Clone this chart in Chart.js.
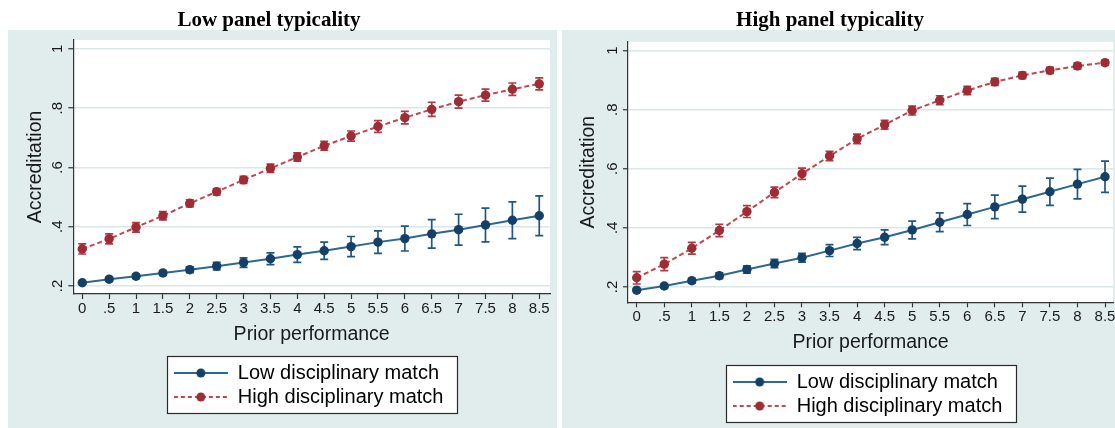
<!DOCTYPE html>
<html><head><meta charset="utf-8">
<script src="https://cdn.jsdelivr.net/npm/chart.js@4/dist/chart.umd.min.js"></script>
<style>
html,body{margin:0;padding:0;background:#fff;width:1115px;height:428px;overflow:hidden;position:relative}
.wrap{position:absolute;top:0;height:428px}
#w1{left:-12px;width:570px}
#w2{left:547px;width:572px}
canvas{display:block}
</style></head><body>
<div class="wrap" id="w1"><canvas id="c1" width="570" height="428"></canvas></div>
<div class="wrap" id="w2"><canvas id="c2" width="572" height="428"></canvas></div>
<script>
// ---- data ----
const priorPerformance = [0, 0.5, 1, 1.5, 2, 2.5, 3, 3.5, 4, 4.5, 5, 5.5, 6, 6.5, 7, 7.5, 8, 8.5];
const xTickLabels = ['0', '.5', '1', '1.5', '2', '2.5', '3', '3.5', '4', '4.5', '5', '5.5', '6', '6.5', '7', '7.5', '8', '8.5'];
const yTickValues = [0.2, 0.4, 0.6, 0.8, 1];
const yTickLabels = ['.2', '.4', '.6', '.8', '1'];
const seriesNames = ['Low disciplinary match', 'High disciplinary match'];
const panelTitles = ['Low panel typicality', 'High panel typicality'];
const xAxisTitle = 'Prior performance';
const yAxisTitle = 'Accreditation';

// Low panel typicality
const lowTypLowMatch   = [0.211, 0.223, 0.233, 0.244, 0.255, 0.267, 0.279, 0.292, 0.306, 0.319, 0.333, 0.348, 0.360, 0.376, 0.390, 0.406, 0.422, 0.437];
const lowTypLowMatchCI = [0.005, 0.006, 0.007, 0.008, 0.010, 0.013, 0.016, 0.020, 0.026, 0.029, 0.034, 0.038, 0.042, 0.048, 0.052, 0.057, 0.062, 0.067];
const lowTypHighMatch   = [0.325, 0.359, 0.398, 0.437, 0.479, 0.518, 0.558, 0.597, 0.635, 0.673, 0.706, 0.738, 0.768, 0.796, 0.822, 0.844, 0.864, 0.882];
const lowTypHighMatchCI = [0.017, 0.017, 0.016, 0.014, 0.012, 0.011, 0.012, 0.014, 0.014, 0.015, 0.017, 0.020, 0.021, 0.024, 0.022, 0.020, 0.021, 0.020];

// High panel typicality
const highTypLowMatch   = [0.189, 0.203, 0.221, 0.238, 0.259, 0.279, 0.299, 0.323, 0.347, 0.368, 0.393, 0.419, 0.445, 0.471, 0.497, 0.522, 0.548, 0.573];
const highTypLowMatchCI = [0.005, 0.006, 0.008, 0.010, 0.012, 0.014, 0.015, 0.020, 0.021, 0.025, 0.030, 0.032, 0.037, 0.040, 0.044, 0.046, 0.050, 0.053];
const highTypHighMatch   = [0.231, 0.277, 0.331, 0.391, 0.455, 0.520, 0.583, 0.643, 0.701, 0.749, 0.797, 0.832, 0.865, 0.894, 0.916, 0.933, 0.948, 0.959];
const highTypHighMatchCI = [0.021, 0.022, 0.020, 0.021, 0.020, 0.018, 0.019, 0.016, 0.016, 0.015, 0.015, 0.015, 0.014, 0.012, 0.011, 0.010, 0.010, 0.008];

// ---- styles ----
const BLUE = '#143f66', BLUE_LINE = '#2d6890', BLUE_ERR = '#22577f';
const RED = '#9d2c35', RED_LINE = '#c2464e', RED_ERR = '#b23a43';
const PANEL_BG = '#e1eded', GRID = '#dbe8e9', AXIS = '#333333', TXT = '#1a1a1a';
const LEG_FONT = 20, LEG_PAD = 4;

Chart.defaults.font.family = "'Liberation Sans', Arial, sans-serif";
Chart.defaults.color = TXT;

function legendIcon(lineColor, dotColor, dash) {
  const c = document.createElement('canvas');
  c.width = 54; c.height = 12;
  const g = c.getContext('2d');
  g.strokeStyle = lineColor; g.lineWidth = 2;
  if (dash) g.setLineDash(dash);
  g.beginPath(); g.moveTo(0, 6); g.lineTo(54, 6); g.stroke();
  g.setLineDash([]);
  g.fillStyle = dotColor;
  g.beginPath(); g.arc(27, 6, 4.5, 0, Math.PI * 2); g.fill();
  return c;
}
const iconLow = legendIcon(BLUE_LINE, BLUE, null);
const iconHigh = legendIcon(RED_LINE, RED, [4, 3]);

const panelPlugin = {
  id: 'panel',
  beforeDraw(chart, args, o) {
    const ctx = chart.ctx;
    ctx.save();
    ctx.fillStyle = PANEL_BG;
    ctx.fillRect(o.x0, 30, o.x1 - o.x0, chart.height - 30);
    const a = chart.chartArea;
    ctx.fillStyle = '#ffffff';
    ctx.fillRect(a.left, a.top, a.right - a.left, a.bottom - a.top);
    const lg = chart.legend;
    if (lg && lg.legendHitBoxes && lg.legendHitBoxes.length) {
      const maxW = Math.max(...lg.legendHitBoxes.map(h => h.width));
      const m = maxW + LEG_PAD + o.legendShift;
      lg.lineWidths = lg.lineWidths.map(() => m);
      const rowX = (lg.left + LEG_PAD + lg.right - m) / 2;
      const r1 = lg.top + LEG_PAD + LEG_FONT / 2;
      const r2 = r1 + (LEG_FONT + LEG_PAD) * (lg.lineWidths.length - 1);
      const bx = Math.round(rowX - 7) + 0.5, by = Math.round(r1 - 17) + 0.5;
      const bw = Math.round(maxW + 7 + 13), bh = Math.round(r2 + 16 - (r1 - 17));
      ctx.fillStyle = '#ffffff';
      ctx.fillRect(bx, by, bw, bh);
      ctx.strokeStyle = '#2a2a2a'; ctx.lineWidth = 1.2;
      ctx.strokeRect(bx, by, bw, bh);
    }
    ctx.restore();
  }
};

const errPlugin = {
  id: 'errbars',
  beforeDatasetsDraw(chart) {
    const ctx = chart.ctx, xs = chart.scales.x, ys = chart.scales.y;
    ctx.save();
    ctx.lineWidth = 1.7;
    chart.data.datasets.forEach(ds => {
      ctx.strokeStyle = ds.errColor;
      ds.ci.forEach((e, j) => {
        const p = ds.data[j];
        const x = xs.getPixelForValue(p.x);
        const y1 = ys.getPixelForValue(p.y - e), y2 = ys.getPixelForValue(p.y + e);
        ctx.beginPath();
        ctx.moveTo(x, y1); ctx.lineTo(x, y2);
        ctx.moveTo(x - 4, y1); ctx.lineTo(x + 4, y1);
        ctx.moveTo(x - 4, y2); ctx.lineTo(x + 4, y2);
        ctx.stroke();
      });
    });
    ctx.restore();
  }
};

function makeChart(id, g, title, lowVals, lowCI, highVals, highCI) {
  return new Chart(document.getElementById(id), {
    type: 'line',
    data: {
      datasets: [
        { label: seriesNames[0], data: priorPerformance.map((x, i) => ({ x, y: lowVals[i] })), ci: lowCI,
          errColor: BLUE_ERR, borderColor: BLUE_LINE, borderWidth: 2, pointRadius: 4.7,
          pointBackgroundColor: BLUE, pointBorderColor: BLUE, pointBorderWidth: 0, fill: false, tension: 0 },
        { label: seriesNames[1], data: priorPerformance.map((x, i) => ({ x, y: highVals[i] })), ci: highCI,
          errColor: RED_ERR, borderColor: RED_LINE, borderWidth: 2, borderDash: [5, 3], pointRadius: 4.7,
          pointBackgroundColor: RED, pointBorderColor: RED, pointBorderWidth: 0, fill: false, tension: 0 }
      ]
    },
    options: {
      responsive: false, animation: false, events: [],
      layout: { padding: { left: 0, right: g.padR, top: 0, bottom: g.padB } },
      plugins: {
        title: { display: true, text: title, color: '#000',
          font: { family: "'Liberation Serif', 'Times New Roman', serif", size: 21, weight: 'bold', lineHeight: 1.2 },
          padding: { top: 7.9, bottom: g.titlePadB } },
        legend: {
          display: true, position: 'bottom', fullSize: false, align: 'center', maxHeight: 58,
          labels: {
            usePointStyle: true, pointStyleWidth: 54, padding: LEG_PAD, color: '#111',
            font: { size: LEG_FONT },
            generateLabels: (chart) => chart.data.datasets.map((ds, i) => ({
              text: ds.label, datasetIndex: i, hidden: false, lineWidth: 0,
              fillStyle: ds.pointBackgroundColor, strokeStyle: ds.borderColor,
              pointStyle: i === 0 ? iconLow : iconHigh
            }))
          }
        },
        tooltip: { enabled: false },
        panel: { x0: g.bgX0, x1: g.bgX1, legendShift: 6 }
      },
      scales: {
        x: {
          type: 'linear', min: g.xmin, max: g.xmax,
          afterBuildTicks: s => { s.ticks = priorPerformance.map(v => ({ value: v })); },
          afterFit: s => { s.height = g.xH; },
          ticks: { callback: (v, i) => xTickLabels[i], autoSkip: false, minRotation: 0, maxRotation: 0,
            padding: g.xTickPad, font: { size: 15 }, color: TXT },
          grid: { drawOnChartArea: false, drawTicks: true, tickLength: 5, tickColor: AXIS, tickWidth: 1.2 },
          border: { display: true, color: AXIS, width: 1.2 },
          title: { display: true, text: xAxisTitle, color: TXT, font: { size: 19.5, lineHeight: 1.2 },
            padding: { top: 0, bottom: g.xTitlePadB } }
        },
        y: {
          type: 'linear', min: g.ymin, max: g.ymax,
          afterBuildTicks: s => { s.ticks = yTickValues.map(v => ({ value: v })); },
          afterFit: s => { s.width = g.yW; },
          ticks: { callback: (v, i) => yTickLabels[i], minRotation: 90, maxRotation: 90, crossAlign: 'center',
            padding: 3.7, font: { size: 15 }, color: TXT },
          grid: { color: GRID, lineWidth: 1.5, drawTicks: true, tickLength: 5, tickColor: AXIS, tickWidth: 1.2 },
          border: { display: true, color: AXIS, width: 1.2 },
          title: { display: true, text: yAxisTitle, color: TXT, font: { size: 19.5, lineHeight: 1.2 },
            padding: { top: g.yTitlePadT, bottom: 0 } }
        }
      }
    },
    plugins: [panelPlugin, errPlugin]
  });
}

makeChart('c1', {
  padR: 8, padB: 11, titlePadB: 6.9, xH: 65, xTickPad: 1, xTitlePadB: 12.3, yW: 85.3, yTitlePadT: 36.3,
  xmin: -0.167, xmax: 8.70, ymin: 0.173, ymax: 1.030, bgX0: 20, bgX1: 569
}, panelTitles[0], lowTypLowMatch, lowTypLowMatchCI, lowTypHighMatch, lowTypHighMatchCI);

makeChart('c2', {
  padR: 6, padB: 2, titlePadB: 8.9, xH: 65.7, xTickPad: 0.7, xTitlePadB: 13.3, yW: 81, yTitlePadT: 29.7,
  xmin: -0.158, xmax: 8.645, ymin: 0.148, ymax: 1.029, bgX0: 15, bgX1: 572
}, panelTitles[1], highTypLowMatch, highTypLowMatchCI, highTypHighMatch, highTypHighMatchCI);
</script>
</body></html>
